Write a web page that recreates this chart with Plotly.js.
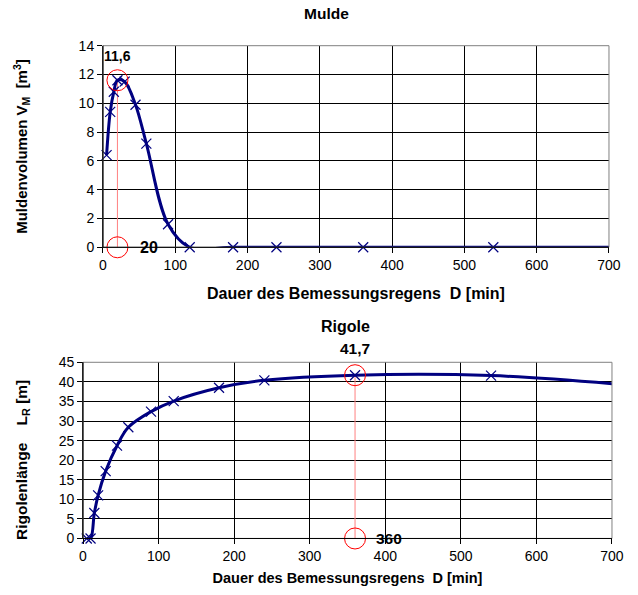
<!DOCTYPE html>
<html>
<head>
<meta charset="utf-8">
<script src="https://cdn.plot.ly/plotly-3.0.1.min.js"></script>
<style>html,body{margin:0;padding:0;background:#fff;}</style>
</head>
<body>
<div id="chart" style="width:638px;height:595px;"></div>
<script>
// Rain duration D [min] used for both design curves
const duration = [5, 10, 15, 20, 30, 45, 60, 90, 120, 180, 240, 360, 540, 720];
// Required swale volume V_M [m³]
const muldeVolume = [6.4, 9.4, 10.8, 11.6, 11.5, 9.9, 7.2, 1.6, 0, 0, 0, 0, 0, 0];
// Required trench length L_R [m]
const rigoleLength = [0, 0, 6.5, 11.0, 17.2, 23.7, 28.4, 32.4, 35.1, 38.5, 40.4, 41.7, 41.6, 39.2];

// Governing (maximum) design values
const muldePeakD = 20, muldePeakV = 11.6;
const rigolePeakD = 360, rigolePeakL = 41.7;

const xTicks = [0, 100, 200, 300, 400, 500, 600, 700];
const muldeTicks = [0, 2, 4, 6, 8, 10, 12, 14];
const rigoleTicks = [0, 5, 10, 15, 20, 25, 30, 35, 40, 45];

const FONT = 'Arial, "Liberation Sans", sans-serif';
const NAVY = '#000080';
const RED = '#ff0000';

function fmt(v) { return String(v).replace('.', ','); }

function curve(x, y, xa, ya) {
  return {
    x: x, y: y, xaxis: xa, yaxis: ya, type: 'scatter', mode: 'lines+markers',
    line: {color: NAVY, width: 3, shape: 'spline', smoothing: 1},
    marker: {symbol: 'x-thin-open', size: 10, line: {color: '#2020a0', width: 1.2}, color: NAVY},
    cliponaxis: false, hoverinfo: 'x+y', showlegend: false
  };
}
function dropLine(d, v, xa, ya) {
  return {
    x: [d, d], y: [v, 0], xaxis: xa, yaxis: ya, type: 'scatter', mode: 'lines',
    line: {color: '#ff8080', width: 1}, hoverinfo: 'skip', showlegend: false
  };
}
function rings(d, v, xa, ya) {
  return {
    x: [d, d], y: [v, 0], xaxis: xa, yaxis: ya, type: 'scatter', mode: 'markers',
    marker: {symbol: 'circle-open', size: 21, color: RED, line: {color: RED, width: 1}},
    cliponaxis: false, hoverinfo: 'skip', showlegend: false
  };
}

const traces = [
  dropLine(muldePeakD, muldePeakV, 'x', 'y'),
  curve(duration, muldeVolume, 'x', 'y'),
  rings(muldePeakD, muldePeakV, 'x', 'y'),
  dropLine(rigolePeakD, rigolePeakL, 'x2', 'y2'),
  curve(duration, rigoleLength, 'x2', 'y2'),
  rings(rigolePeakD, rigolePeakL, 'x2', 'y2')
];

const tickFont = {family: FONT, size: 14, color: '#000'};
function bold(size) { return {family: FONT, size: size, color: '#000', weight: 'bold'}; }

function xAxis(domain, anchor, titleSize, standoff) {
  return {
    domain: domain, anchor: anchor, range: [0, 700], tickvals: xTicks,
    ticks: 'outside', ticklen: 5, tickcolor: '#000', tickfont: tickFont,
    showgrid: true, gridcolor: '#000', gridwidth: 1,
    showline: true, linecolor: '#000', linewidth: 1, zeroline: false,
    title: {text: 'Dauer des Bemessungsregens  D [min]', font: bold(titleSize), standoff: standoff}
  };
}
function yAxis(domain, anchor, range, ticks, title, titleSize, standoff) {
  return {
    domain: domain, anchor: anchor, range: range, tickvals: ticks,
    ticks: 'outside', ticklen: 5, tickcolor: '#000', tickfont: tickFont,
    showgrid: true, gridcolor: '#000', gridwidth: 1,
    showline: true, linecolor: '#000', linewidth: 1, zeroline: false,
    title: {text: title, font: bold(titleSize), standoff: standoff}
  };
}

const layout = {
  width: 638, height: 595,
  margin: {l: 0, r: 0, t: 0, b: 0},
  paper_bgcolor: '#fff', plot_bgcolor: '#fff',
  font: {family: FONT, size: 14, color: '#000'},
  xaxis: xAxis([0.1614, 0.9545], 'y', 16, 15),
  yaxis: yAxis([0.5844, 0.9232], 'x', [0, 14], muldeTicks,
    'Muldenvolumen V<sub>M</sub>  [m<sup>3</sup>]', 15, 47),
  xaxis2: xAxis([0.1301, 0.9592], 'y2', 14.5, 9),
  yaxis2: yAxis([0.0950, 0.3911], 'x2', [0, 45], rigoleTicks, '', 15, 26),
  shapes: [
    {type: 'rect', xref: 'x domain', yref: 'y domain', x0: 0, x1: 1, y0: 0, y1: 1,
     line: {color: '#808080', width: 1}},
    {type: 'rect', xref: 'x2 domain', yref: 'y2 domain', x0: 0, x1: 1, y0: 0, y1: 1,
     line: {color: '#808080', width: 1}},
    {type: 'line', xref: 'x domain', yref: 'y domain', x0: 0, x1: 1, y0: 0, y1: 0,
     line: {color: '#000', width: 1}},
    {type: 'line', xref: 'x domain', yref: 'y domain', x0: 0, x1: 0, y0: 0, y1: 1,
     line: {color: '#000', width: 1}},
    {type: 'line', xref: 'x2 domain', yref: 'y2 domain', x0: 0, x1: 1, y0: 0, y1: 0,
     line: {color: '#000', width: 1}},
    {type: 'line', xref: 'x2 domain', yref: 'y2 domain', x0: 0, x1: 0, y0: 0, y1: 1,
     line: {color: '#000', width: 1}}
  ],
  annotations: [
    {text: 'Mulde', xref: 'paper', yref: 'paper', x: 326 / 638, y: 1 - 13 / 595,
     showarrow: false, font: bold(15.5), xanchor: 'center', yanchor: 'middle'},
    {text: 'Rigole', xref: 'paper', yref: 'paper', x: 345 / 638, y: 1 - 326 / 595,
     showarrow: false, font: bold(16), xanchor: 'center', yanchor: 'middle'},
    // y-axis title of the trench chart, set a little below the axis centre
    {text: 'Rigolenlänge    L<sub>R</sub> [m]', xref: 'paper', yref: 'paper',
     x: 22 / 638, y: 1 - 460 / 595, textangle: -90, showarrow: false,
     font: bold(15.5), xanchor: 'center', yanchor: 'middle'},
    {text: fmt(muldePeakV), xref: 'x', yref: 'y', x: muldePeakD, y: muldePeakV,
     yshift: 24, showarrow: false, font: bold(14)},
    {text: String(muldePeakD), xref: 'x', yref: 'y', x: muldePeakD, y: 0,
     xshift: 21, xanchor: 'left', showarrow: false, font: bold(16)},
    {text: fmt(rigolePeakL), xref: 'x2', yref: 'y2', x: rigolePeakD, y: rigolePeakL,
     yshift: 27, showarrow: false, font: bold(15.5)},
    {text: String(rigolePeakD), xref: 'x2', yref: 'y2', x: rigolePeakD, y: 0,
     xshift: 19, xanchor: 'left', showarrow: false, font: bold(15.5)}
  ]
};

Plotly.newPlot('chart', traces, layout, {displayModeBar: false, staticPlot: true});
</script>
</body>
</html>
